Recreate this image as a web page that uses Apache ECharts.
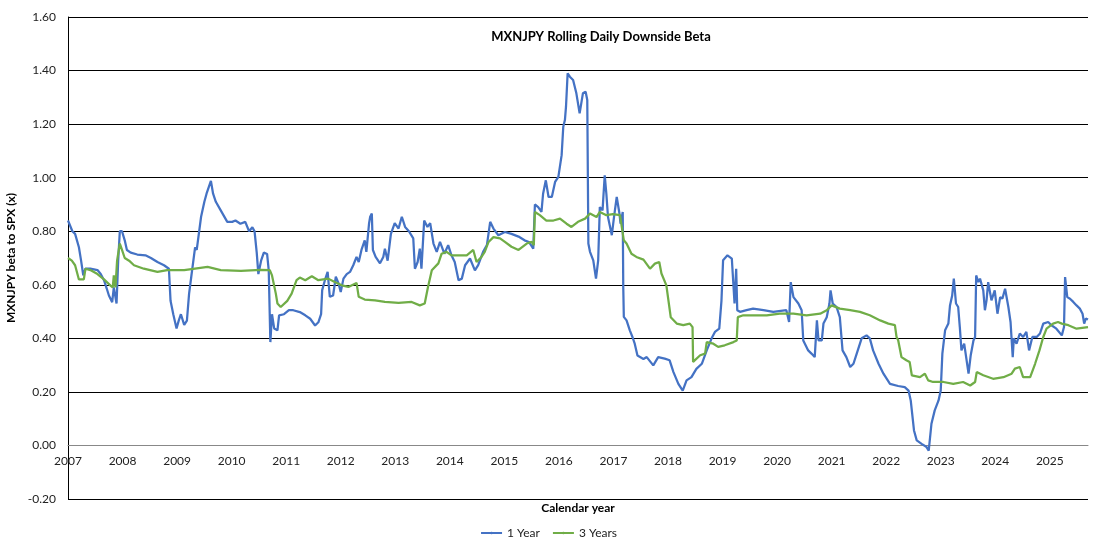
<!DOCTYPE html>
<html>
<head>
<meta charset="utf-8">
<script src="https://cdn.jsdelivr.net/npm/echarts@6/dist/echarts.min.js"></script>
<style>
  html, body { margin: 0; padding: 0; background: #fff; }
  #chart { width: 1097px; height: 545px; }
</style>
</head>
<body>
<div id="chart"></div>
<script>
// decimal year, beta
const oneYear = [
  [2007.00, 0.84], [2007.08, 0.80], [2007.13, 0.79], [2007.20, 0.74], [2007.24, 0.69], [2007.28, 0.635],
  [2007.32, 0.66], [2007.41, 0.66], [2007.54, 0.655], [2007.60, 0.64], [2007.66, 0.617], [2007.71, 0.586],
  [2007.75, 0.56], [2007.81, 0.535], [2007.84, 0.59], [2007.89, 0.53], [2007.92, 0.69], [2007.95, 0.80],
  [2007.99, 0.80], [2008.04, 0.766], [2008.08, 0.73], [2008.15, 0.72], [2008.27, 0.713], [2008.42, 0.71],
  [2008.52, 0.70], [2008.64, 0.685], [2008.76, 0.673], [2008.85, 0.66], [2008.88, 0.54], [2008.93, 0.49],
  [2008.99, 0.437], [2009.03, 0.466], [2009.07, 0.49], [2009.13, 0.45], [2009.18, 0.466], [2009.22, 0.567],
  [2009.26, 0.63], [2009.33, 0.74], [2009.36, 0.73], [2009.44, 0.854], [2009.50, 0.91], [2009.54, 0.94],
  [2009.62, 0.988], [2009.66, 0.94], [2009.71, 0.91], [2009.80, 0.878], [2009.92, 0.835], [2010.01, 0.835],
  [2010.07, 0.84], [2010.16, 0.828], [2010.25, 0.835], [2010.32, 0.80], [2010.38, 0.815], [2010.42, 0.80],
  [2010.46, 0.72], [2010.49, 0.64], [2010.54, 0.69], [2010.59, 0.72], [2010.65, 0.715], [2010.68, 0.655],
  [2010.71, 0.386], [2010.74, 0.49], [2010.78, 0.437], [2010.84, 0.43], [2010.87, 0.486], [2010.96, 0.49],
  [2011.05, 0.505], [2011.13, 0.505], [2011.25, 0.498], [2011.35, 0.486], [2011.44, 0.473], [2011.53, 0.448],
  [2011.59, 0.46], [2011.64, 0.49], [2011.66, 0.58], [2011.71, 0.617], [2011.76, 0.648], [2011.80, 0.555],
  [2011.86, 0.56], [2011.91, 0.63], [2011.96, 0.605], [2012.00, 0.573], [2012.05, 0.623], [2012.11, 0.64],
  [2012.17, 0.648], [2012.23, 0.673], [2012.29, 0.704], [2012.33, 0.685], [2012.38, 0.73], [2012.44, 0.766],
  [2012.47, 0.723], [2012.52, 0.83], [2012.54, 0.854], [2012.57, 0.866], [2012.59, 0.73], [2012.64, 0.704],
  [2012.72, 0.68], [2012.78, 0.704], [2012.81, 0.735], [2012.86, 0.69], [2012.92, 0.79], [2012.99, 0.83],
  [2013.06, 0.81], [2013.12, 0.854], [2013.18, 0.816], [2013.25, 0.80], [2013.33, 0.773], [2013.36, 0.66],
  [2013.41, 0.685], [2013.45, 0.735], [2013.48, 0.66], [2013.53, 0.84], [2013.59, 0.816], [2013.64, 0.83],
  [2013.70, 0.754], [2013.76, 0.723], [2013.82, 0.76], [2013.90, 0.716], [2013.97, 0.748], [2014.03, 0.71],
  [2014.09, 0.685], [2014.16, 0.617], [2014.22, 0.623], [2014.28, 0.673], [2014.37, 0.698], [2014.46, 0.654],
  [2014.52, 0.673], [2014.61, 0.723], [2014.68, 0.748], [2014.74, 0.835], [2014.80, 0.81], [2014.89, 0.785],
  [2015.01, 0.797], [2015.13, 0.79], [2015.26, 0.78], [2015.37, 0.766], [2015.45, 0.76], [2015.53, 0.735],
  [2015.56, 0.90], [2015.62, 0.89], [2015.68, 0.872], [2015.71, 0.94], [2015.76, 0.99], [2015.81, 0.928],
  [2015.87, 0.928], [2015.93, 0.984], [2015.99, 1.003], [2016.05, 1.084], [2016.08, 1.19], [2016.11, 1.215],
  [2016.13, 1.265], [2016.16, 1.39], [2016.20, 1.377], [2016.26, 1.365], [2016.32, 1.315], [2016.38, 1.24],
  [2016.44, 1.315], [2016.49, 1.321], [2016.52, 1.29], [2016.54, 0.754], [2016.57, 0.723], [2016.63, 0.691],
  [2016.68, 0.623], [2016.72, 0.691], [2016.75, 0.89], [2016.80, 0.878], [2016.84, 1.009], [2016.87, 0.94],
  [2016.90, 0.853], [2016.97, 0.785], [2017.01, 0.853], [2017.06, 0.928], [2017.11, 0.866], [2017.13, 0.828],
  [2017.17, 0.872], [2017.18, 0.59], [2017.19, 0.48], [2017.24, 0.467], [2017.30, 0.43], [2017.35, 0.404],
  [2017.39, 0.38], [2017.44, 0.336], [2017.55, 0.323], [2017.61, 0.33], [2017.73, 0.299], [2017.82, 0.33],
  [2017.94, 0.324], [2018.03, 0.318], [2018.10, 0.274], [2018.19, 0.23], [2018.27, 0.205], [2018.34, 0.243],
  [2018.43, 0.255], [2018.52, 0.286], [2018.62, 0.305], [2018.71, 0.355], [2018.80, 0.40], [2018.86, 0.424],
  [2018.94, 0.436], [2018.98, 0.54], [2019.01, 0.692], [2019.09, 0.71], [2019.17, 0.698], [2019.20, 0.692],
  [2019.22, 0.53], [2019.25, 0.66], [2019.27, 0.505], [2019.32, 0.499], [2019.44, 0.505], [2019.56, 0.511],
  [2019.75, 0.505], [2019.93, 0.499], [2020.17, 0.505], [2020.22, 0.461], [2020.25, 0.61], [2020.30, 0.554],
  [2020.39, 0.53], [2020.45, 0.505], [2020.48, 0.392], [2020.57, 0.355], [2020.63, 0.343], [2020.69, 0.33],
  [2020.73, 0.467], [2020.76, 0.392], [2020.82, 0.392], [2020.85, 0.455], [2020.91, 0.479], [2020.96, 0.53],
  [2020.98, 0.579], [2021.02, 0.53], [2021.09, 0.517], [2021.15, 0.479], [2021.20, 0.355], [2021.27, 0.33],
  [2021.34, 0.293], [2021.40, 0.305], [2021.46, 0.343], [2021.55, 0.40], [2021.64, 0.411], [2021.70, 0.40],
  [2021.76, 0.355], [2021.86, 0.305], [2021.95, 0.268], [2022.07, 0.23], [2022.22, 0.222], [2022.34, 0.218],
  [2022.41, 0.205], [2022.45, 0.168], [2022.51, 0.056], [2022.56, 0.019], [2022.65, 0.006], [2022.74, -0.006],
  [2022.78, -0.019], [2022.83, 0.081], [2022.89, 0.131], [2022.96, 0.168], [2023.00, 0.205], [2023.03, 0.343],
  [2023.08, 0.43], [2023.14, 0.455], [2023.17, 0.523], [2023.21, 0.56], [2023.24, 0.623], [2023.28, 0.53],
  [2023.32, 0.517], [2023.35, 0.442], [2023.38, 0.355], [2023.43, 0.38], [2023.46, 0.38], [2023.51, 0.268],
  [2023.55, 0.337], [2023.60, 0.392], [2023.63, 0.405], [2023.65, 0.635], [2023.69, 0.61], [2023.72, 0.623],
  [2023.78, 0.579], [2023.81, 0.505], [2023.84, 0.542], [2023.87, 0.61], [2023.93, 0.542], [2023.99, 0.579],
  [2024.04, 0.492], [2024.09, 0.554], [2024.13, 0.548], [2024.18, 0.585], [2024.24, 0.517], [2024.28, 0.461],
  [2024.32, 0.33], [2024.34, 0.40], [2024.39, 0.38], [2024.45, 0.418], [2024.51, 0.405], [2024.57, 0.424],
  [2024.62, 0.355], [2024.68, 0.405], [2024.76, 0.405], [2024.82, 0.418], [2024.88, 0.455], [2024.97, 0.461],
  [2025.03, 0.449], [2025.12, 0.436], [2025.22, 0.411], [2025.26, 0.442], [2025.28, 0.629], [2025.32, 0.554],
  [2025.37, 0.548], [2025.43, 0.536], [2025.49, 0.523], [2025.55, 0.511], [2025.60, 0.492], [2025.63, 0.455],
  [2025.66, 0.474], [2025.70, 0.47]
];

const threeYears = [
  [2007.00, 0.70], [2007.07, 0.69], [2007.13, 0.673], [2007.20, 0.62], [2007.29, 0.62], [2007.32, 0.66],
  [2007.41, 0.655], [2007.54, 0.64], [2007.66, 0.62], [2007.78, 0.597], [2007.82, 0.59], [2007.84, 0.635],
  [2007.87, 0.59], [2007.90, 0.69], [2007.95, 0.754], [2007.99, 0.73], [2008.04, 0.70], [2008.12, 0.69],
  [2008.21, 0.673], [2008.39, 0.66], [2008.64, 0.648], [2008.82, 0.655], [2009.13, 0.655], [2009.56, 0.667],
  [2009.80, 0.655], [2010.17, 0.652], [2010.53, 0.656], [2010.70, 0.655], [2010.74, 0.635], [2010.81, 0.567],
  [2010.84, 0.53], [2010.90, 0.517], [2011.02, 0.54], [2011.10, 0.567], [2011.19, 0.617], [2011.25, 0.627],
  [2011.35, 0.617], [2011.47, 0.632], [2011.59, 0.617], [2011.77, 0.623], [2011.89, 0.61], [2012.02, 0.598],
  [2012.14, 0.592], [2012.29, 0.607], [2012.33, 0.555], [2012.44, 0.545], [2012.63, 0.542], [2012.81, 0.536],
  [2013.06, 0.532], [2013.30, 0.536], [2013.45, 0.523], [2013.54, 0.53], [2013.60, 0.592], [2013.67, 0.654],
  [2013.79, 0.68], [2013.85, 0.716], [2013.94, 0.723], [2014.03, 0.71], [2014.16, 0.71], [2014.31, 0.71],
  [2014.43, 0.73], [2014.49, 0.685], [2014.58, 0.704], [2014.64, 0.723], [2014.71, 0.76], [2014.80, 0.778],
  [2014.92, 0.773], [2015.01, 0.76], [2015.13, 0.742], [2015.26, 0.73], [2015.41, 0.754], [2015.50, 0.76],
  [2015.54, 0.748], [2015.56, 0.872], [2015.65, 0.86], [2015.77, 0.84], [2015.90, 0.84], [2016.02, 0.847],
  [2016.14, 0.828], [2016.23, 0.816], [2016.35, 0.835], [2016.48, 0.847], [2016.57, 0.866], [2016.69, 0.853],
  [2016.75, 0.872], [2016.87, 0.86], [2016.99, 0.864], [2017.12, 0.86], [2017.19, 0.766], [2017.24, 0.754],
  [2017.33, 0.716], [2017.42, 0.704], [2017.55, 0.694], [2017.67, 0.66], [2017.76, 0.679], [2017.84, 0.685],
  [2017.88, 0.642], [2017.97, 0.598], [2018.05, 0.479], [2018.16, 0.455], [2018.28, 0.449], [2018.40, 0.455],
  [2018.45, 0.442], [2018.46, 0.312], [2018.59, 0.337], [2018.68, 0.343], [2018.71, 0.386], [2018.83, 0.38],
  [2018.92, 0.368], [2019.04, 0.374], [2019.20, 0.386], [2019.26, 0.392], [2019.28, 0.479], [2019.38, 0.486],
  [2019.56, 0.486], [2019.81, 0.486], [2020.05, 0.492], [2020.30, 0.492], [2020.54, 0.486], [2020.79, 0.492],
  [2020.91, 0.505], [2021.00, 0.523], [2021.15, 0.511], [2021.34, 0.505], [2021.52, 0.499], [2021.70, 0.486],
  [2021.89, 0.467], [2022.04, 0.455], [2022.16, 0.449], [2022.19, 0.405], [2022.22, 0.393], [2022.28, 0.33],
  [2022.37, 0.318], [2022.43, 0.312], [2022.47, 0.262], [2022.62, 0.255], [2022.71, 0.268], [2022.77, 0.243],
  [2022.86, 0.237], [2023.05, 0.237], [2023.23, 0.23], [2023.41, 0.237], [2023.54, 0.224], [2023.63, 0.237],
  [2023.66, 0.274], [2023.78, 0.262], [2023.96, 0.249], [2024.15, 0.255], [2024.30, 0.268], [2024.36, 0.287],
  [2024.45, 0.293], [2024.51, 0.255], [2024.64, 0.255], [2024.73, 0.305], [2024.81, 0.355], [2024.88, 0.405],
  [2024.94, 0.436], [2025.06, 0.455], [2025.15, 0.461], [2025.22, 0.455], [2025.34, 0.449], [2025.49, 0.436],
  [2025.70, 0.442]
];

const seriesNames = ['1 Year', '3 Years'];
const seriesColors = ['#4472C4', '#70AD47'];

const font = 'Lato, "Open Sans", sans-serif';

const gridTop = 17;
const gridBottom = 46;
const yMin = -0.2;
const yMax = 1.6;
// pixel distance from the bottom of the plot up to y = 0, where the year axis sits
const plotHeight = 545 - gridTop - gridBottom;
const zeroOffset = plotHeight * (0 - yMin) / (yMax - yMin);

const chart = echarts.init(document.getElementById('chart'), null, { renderer: 'canvas' });

chart.setOption({
  backgroundColor: '#fff',
  animation: false,
  textStyle: { fontFamily: font },
  title: {
    text: 'MXNJPY Rolling Daily Downside Beta',
    left: 596,
    top: 25,
    textAlign: 'center',
    textStyle: { fontSize: 13, fontWeight: 'bold', color: '#000', fontFamily: font }
  },
  legend: {
    data: seriesNames,
    left: 'center',
    top: 522,
    itemWidth: 21,
    itemHeight: 3,
    itemGap: 12,
    textStyle: { fontSize: 12, color: '#222', fontFamily: font }
  },
  grid: { left: 68, right: 9, top: gridTop, bottom: gridBottom, outerBoundsMode: 'none' },
  xAxis: {
    type: 'value',
    min: 2007,
    max: 2025.7,
    interval: 1,
    position: 'bottom',
    offset: -zeroOffset,
    name: 'Calendar year',
    nameLocation: 'middle',
    nameGap: 57,
    nameTextStyle: { fontSize: 12, fontWeight: 'bold', color: '#000' },
    axisLine: { onZero: false, lineStyle: { color: '#888', width: 1 } },
    axisTick: { show: false },
    axisLabel: {
      fontSize: 12,
      color: '#222',
      margin: 10,
      showMaxLabel: false,
      formatter: v => (Math.abs(v - Math.round(v)) < 1e-6 ? String(Math.round(v)) : '')
    },
    splitLine: { show: false }
  },
  yAxis: {
    type: 'value',
    min: yMin,
    max: yMax,
    interval: 0.2,
    name: 'MXNJPY beta to SPX (x)',
    nameLocation: 'middle',
    nameGap: 42,
    nameTextStyle: { fontSize: 12, fontWeight: 'bold', color: '#000' },
    axisLine: { show: true, lineStyle: { color: '#000', width: 1 } },
    axisTick: { show: false },
    axisLabel: { fontSize: 12, color: '#222', margin: 12, formatter: v => v.toFixed(2) },
    splitLine: { show: true, lineStyle: { color: '#000', width: 1 } }
  },
  series: [
    {
      name: seriesNames[0],
      type: 'line',
      data: oneYear,
      symbol: 'none',
      color: seriesColors[0],
      lineStyle: { color: seriesColors[0], width: 2.25 }
    },
    {
      name: seriesNames[1],
      type: 'line',
      data: threeYears,
      symbol: 'none',
      color: seriesColors[1],
      lineStyle: { color: seriesColors[1], width: 2.25 }
    }
  ]
});
</script>
</body>
</html>
